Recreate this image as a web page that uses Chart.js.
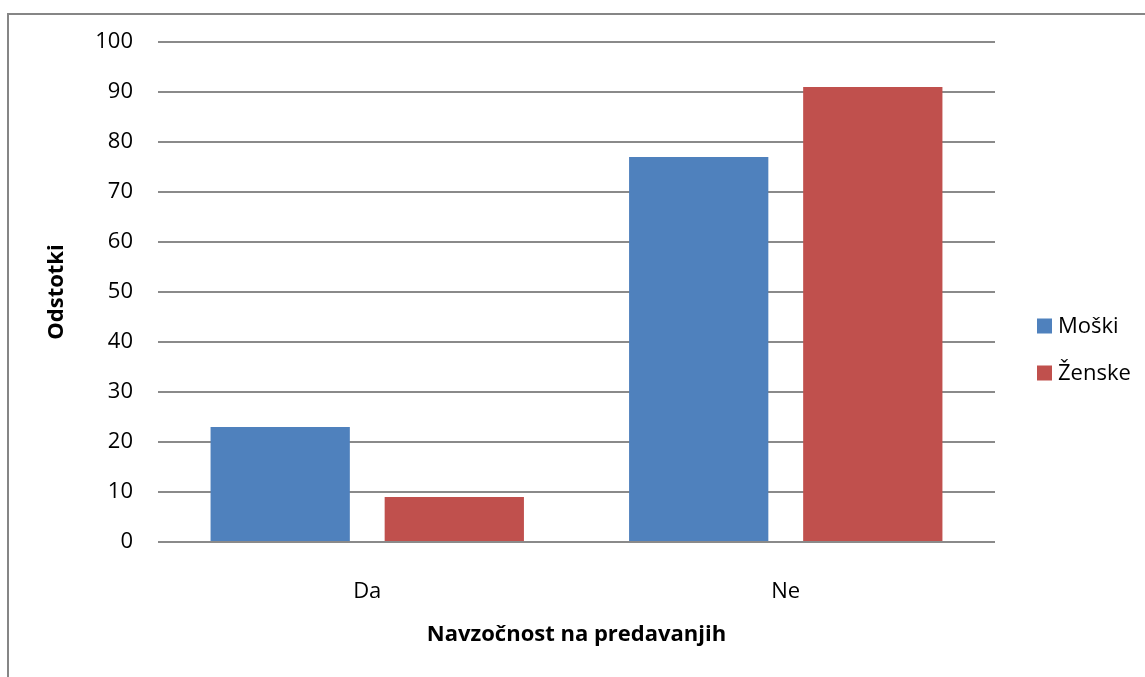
<!DOCTYPE html>
<html lang="sl">
<head>
    <meta charset="UTF-8">
    <title>Navzočnost na predavanjih</title>
    <script src="https://cdn.jsdelivr.net/npm/chart.js"></script>
    <style>
        html, body {
            margin: 0;
            padding: 0;
            background: #fff;
        }
        .wrap {
            position: relative;
            width: 1145px;
            height: 677px;
            overflow: hidden;
        }
        .frame {
            position: absolute;
            left: 7px;
            top: 13px;
            width: 1200px;
            height: 700px;
            border-left: 2px solid #868686;
            border-top: 2px solid #868686;
            pointer-events: none;
        }
        canvas {
            position: absolute;
            left: 0;
            top: 0;
        }
    </style>
</head>
<body>
    <div class="wrap">
        <canvas id="chart" width="1145" height="677"></canvas>
        <div class="frame"></div>
    </div>

    <script>
        const categories = ['Da', 'Ne'];
        const moski = [23, 77];
        const zenske = [9, 91];
        const yTicks = [0, 10, 20, 30, 40, 50, 60, 70, 80, 90, 100];

        const FONT = "'Open Sans', 'Noto Sans', sans-serif";
        const SIZE = 22;

        // simple legend drawn to the right of the plot, Excel style
        const sideLegend = {
            id: 'sideLegend',
            afterDraw(chart) {
                const ctx = chart.ctx;
                const x = chart.chartArea.right + 42;
                let y = 326;
                ctx.save();
                ctx.font = SIZE + 'px ' + FONT;
                ctx.textBaseline = 'middle';
                chart.data.datasets.forEach(ds => {
                    ctx.fillStyle = ds.backgroundColor;
                    ctx.fillRect(x, y - 7.5, 15, 15);
                    ctx.fillStyle = '#000';
                    ctx.fillText(ds.label, x + 21, y + 1);
                    y += 47;
                });
                ctx.restore();
            }
        };

        const ctx = document.getElementById('chart').getContext('2d');
        const chart = new Chart(ctx, {
            type: 'bar',
            data: {
                labels: categories,
                datasets: [
                    {
                        label: 'Moški',
                        data: moski,
                        backgroundColor: '#4F81BD'
                    },
                    {
                        label: 'Ženske',
                        data: zenske,
                        backgroundColor: '#C0504D'
                    }
                ]
            },
            options: {
                responsive: false,
                animation: false,
                categoryPercentage: 0.832,
                barPercentage: 0.8,
                layout: {
                    padding: { top: 42, right: 150, bottom: 0, left: 0 }
                },
                plugins: {
                    legend: { display: false },
                    tooltip: { enabled: false }
                },
                scales: {
                    x: {
                        grid: { display: false },
                        border: { display: false },
                        ticks: {
                            color: '#000',
                            padding: 29,
                            font: { family: FONT, size: SIZE }
                        },
                        title: {
                            display: true,
                            text: 'Navzočnost na predavanjih',
                            color: '#000',
                            padding: { top: 0, bottom: 29 },
                            font: { family: FONT, size: SIZE, weight: 'bold' }
                        },
                        afterFit(scale) {
                            scale.height = 135;
                        }
                    },
                    y: {
                        min: 0,
                        max: 100,
                        afterBuildTicks(scale) {
                            scale.ticks = yTicks.map(v => ({ value: v }));
                        },
                        grid: {
                            color: '#8a8a8a',
                            lineWidth: 2,
                            drawTicks: false
                        },
                        border: { display: false },
                        ticks: {
                            color: '#000',
                            padding: 25,
                            font: { family: FONT, size: SIZE }
                        },
                        title: {
                            display: true,
                            text: 'Odstotki',
                            color: '#000',
                            padding: { top: 44, bottom: 0 },
                            font: { family: FONT, size: SIZE, weight: 'bold' }
                        },
                        afterFit(scale) {
                            scale.width = 158;
                        }
                    }
                }
            },
            plugins: [sideLegend]
        });
    </script>
</body>
</html>
